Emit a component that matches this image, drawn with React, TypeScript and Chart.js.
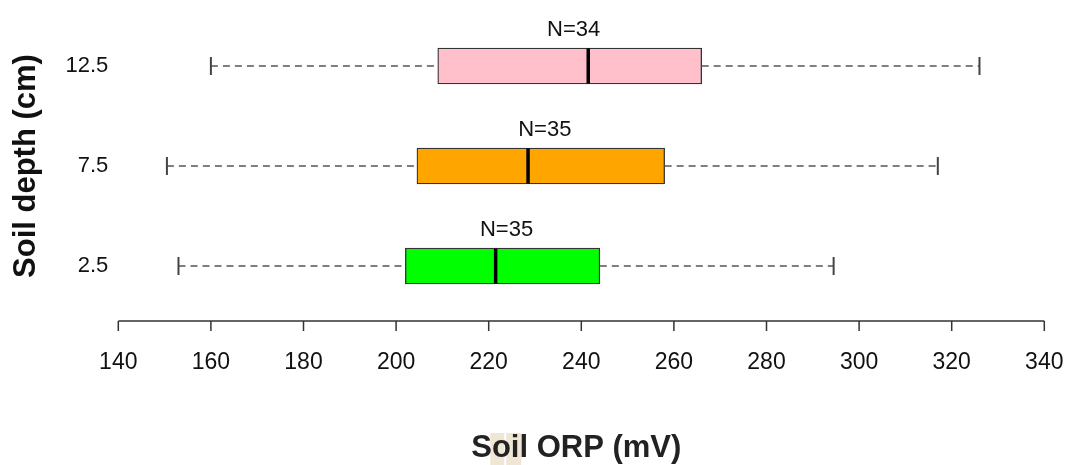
import React, { useEffect, useRef } from "react";
import { Chart, registerables } from "chart.js";

Chart.register(...registerables);

const categories = ["12.5", "7.5", "2.5"];
const mins = [160, 150.5, 153];
const q1s = [209, 204.5, 202];
const medians = [241.5, 228.5, 221.5];
const q3s = [266, 258, 244];
const maxs = [326, 317, 294.5];
const counts = [34, 35, 35];
const boxColors = ["#FFC0CB", "#FFA500", "#00FF00"];
const xTicks = [140, 160, 180, 200, 220, 240, 260, 280, 300, 320, 340];
const xTitle = "Soil ORP (mV)";
const yTitle = "Soil depth (cm)";

const FONT = "'Liberation Sans', Arial, Helvetica, sans-serif";

export default function App() {
  const ref = useRef<HTMLCanvasElement | null>(null);

  useEffect(() => {
    if (!ref.current) return;

    const boxPlugin = {
      id: "boxExtras",
      beforeDraw(chart: any) {
        const ctx = chart.ctx;
        const cx = (chart.chartArea.left + chart.chartArea.right) / 2 - 5;
        ctx.save();
        ctx.font = `bold 31px ${FONT}`;
        const w = ctx.measureText(xTitle).width;
        const left = cx - w / 2;
        ctx.fillStyle = "rgba(236,226,206,0.85)";
        ctx.fillRect(left + 19, 433, 14, 32);
        ctx.fillRect(left + 35, 433, 15, 32);
        ctx.restore();
      },
      afterDraw(chart: any) {
        const ctx = chart.ctx;
        const cx = (chart.chartArea.left + chart.chartArea.right) / 2 - 5;
        ctx.save();
        ctx.font = `bold 31px ${FONT}`;
        ctx.fillStyle = "#222";
        ctx.textAlign = "center";
        ctx.textBaseline = "middle";
        ctx.fillText(xTitle, cx, 448);
        ctx.restore();
      },
      afterDatasetsDraw(chart: any) {
        const ctx = chart.ctx;
        const xs = chart.scales.x;
        const ys = chart.scales.y;
        const half = 18;
        ctx.save();
        categories.forEach((c, i) => {
          const y = ys.getPixelForValue(i);
          const pMin = xs.getPixelForValue(mins[i]);
          const pQ1 = xs.getPixelForValue(q1s[i]);
          const pMed = xs.getPixelForValue(medians[i]);
          const pQ3 = xs.getPixelForValue(q3s[i]);
          const pMax = xs.getPixelForValue(maxs[i]);
          ctx.strokeStyle = "#555";
          ctx.lineWidth = 1.5;
          ctx.setLineDash([7, 5]);
          ctx.beginPath();
          ctx.moveTo(pMin, y);
          ctx.lineTo(pQ1, y);
          ctx.moveTo(pQ3, y);
          ctx.lineTo(pMax, y);
          ctx.stroke();
          ctx.setLineDash([]);
          ctx.strokeStyle = "#444";
          ctx.lineWidth = 2;
          ctx.beginPath();
          ctx.moveTo(pMin, y - 9);
          ctx.lineTo(pMin, y + 9);
          ctx.moveTo(pMax, y - 9);
          ctx.lineTo(pMax, y + 9);
          ctx.stroke();
          ctx.strokeStyle = "#000";
          ctx.lineWidth = 3.5;
          ctx.beginPath();
          ctx.moveTo(pMed, y - half + 0.5);
          ctx.lineTo(pMed, y + half - 0.5);
          ctx.stroke();
          ctx.fillStyle = "#111";
          ctx.font = `22px ${FONT}`;
          ctx.textAlign = "center";
          ctx.textBaseline = "middle";
          ctx.fillText(`N=${counts[i]}`, (pQ1 + pQ3) / 2 + 4, y - half - 18);
        });
        const ay = chart.chartArea.bottom + 5;
        ctx.strokeStyle = "#333";
        ctx.lineWidth = 1.5;
        ctx.beginPath();
        ctx.moveTo(xs.getPixelForValue(xTicks[0]), ay);
        ctx.lineTo(xs.getPixelForValue(xTicks[xTicks.length - 1]), ay);
        xTicks.forEach((t) => {
          const px = xs.getPixelForValue(t);
          ctx.moveTo(px, ay);
          ctx.lineTo(px, ay + 10);
        });
        ctx.stroke();
        ctx.restore();
      },
    };

    const chart = new Chart(ref.current, {
      type: "bar",
      data: {
        labels: categories,
        datasets: [
          {
            data: categories.map((_, i) => [q1s[i], q3s[i]]) as any,
            backgroundColor: boxColors,
            borderColor: "#333",
            borderWidth: 1.3,
            borderSkipped: false,
            barThickness: 36,
          },
        ],
      },
      options: {
        indexAxis: "y",
        responsive: false,
        animation: false,
        layout: { padding: { left: 0, right: 23.7, top: 16, bottom: 0 } },
        plugins: {
          legend: { display: false },
          tooltip: { enabled: false },
        },
        scales: {
          x: {
            type: "linear",
            min: 140,
            max: 340,
            afterFit(s: any) {
              s.height = 149;
              s.paddingLeft = 0;
              s.paddingRight = 0;
            },
            afterBuildTicks(s: any) {
              s.ticks = xTicks.map((v) => ({ value: v }));
            },
            grid: {
              display: true,
              drawOnChartArea: false,
              drawTicks: true,
              tickLength: 10,
              color: "rgba(0,0,0,0)",
            },
            border: { display: false },
            ticks: {
              color: "#111",
              font: { family: FONT, size: 23 },
              padding: 23,
              maxRotation: 0,
              autoSkip: false,
            },
          },
          y: {
            type: "category",
            afterFit(s: any) {
              s.width = 118.3;
            },
            grid: { display: false },
            border: { display: false },
            ticks: {
              color: "#111",
              font: { family: FONT, size: 22 },
              padding: 2,
            },
            title: {
              display: true,
              text: yTitle,
              color: "#111",
              font: { family: FONT, size: 31, weight: "bold" },
              padding: { top: 8, bottom: 0 },
            },
          },
        },
      },
      plugins: [boxPlugin],
    });

    return () => chart.destroy();
  }, []);

  return (
    <div style={{ position: "fixed", left: 0, top: 0, width: 1068, height: 465, background: "#fff" }}>
      <canvas ref={ref} width={1068} height={465} style={{ display: "block" }} />
    </div>
  );
}
